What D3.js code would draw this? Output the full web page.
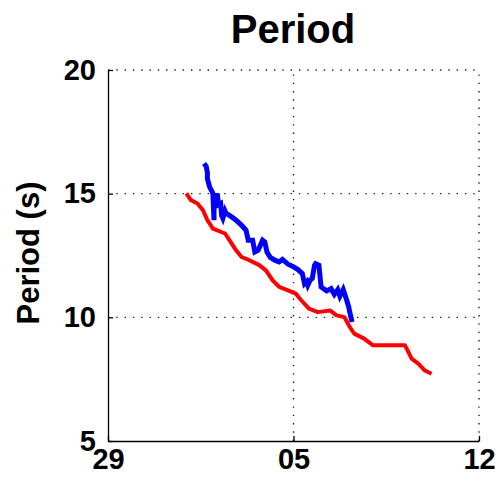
<!DOCTYPE html>
<html>
<head>
<meta charset="utf-8">
<script src="https://cdn.jsdelivr.net/npm/d3@7"></script>
<style>
  body { margin: 0; background: #fff; }
  svg { display: block; font-family: "Liberation Sans", Arial, sans-serif; }
</style>
</head>
<body>
<svg id="chart" width="500" height="485"></svg>
<script>
// Days after 29 Mar, and period in seconds
const redDays = [2.97, 3.16, 3.41, 3.60, 3.78, 3.97, 4.42, 4.60, 4.86, 5.05, 5.36, 5.74, 5.99, 6.24, 6.49, 6.80, 7.12, 7.31, 7.62, 7.94, 8.38, 8.63, 8.94, 9.13, 9.32, 9.70, 10.01, 11.21, 11.46, 11.71, 11.96, 12.22];
const redPeriod = [15.01, 14.74, 14.60, 14.33, 13.93, 13.59, 13.39, 13.12, 12.71, 12.44, 12.31, 12.11, 11.90, 11.50, 11.23, 11.09, 10.96, 10.69, 10.35, 10.21, 10.28, 10.08, 10.01, 9.61, 9.34, 9.14, 8.87, 8.87, 8.33, 8.13, 7.85, 7.72];

const blueDays = [3.66, 3.72, 3.76, 3.79, 3.85, 3.92, 3.97, 4.00, 4.04, 4.08, 4.16, 4.20, 4.25, 4.30, 4.35, 4.42, 4.48, 4.57, 4.67, 4.86, 5.05, 5.23, 5.33, 5.46, 5.55, 5.67, 5.84, 5.92, 6.01, 6.14, 6.30, 6.49, 6.62, 6.80, 6.99, 7.18, 7.35, 7.43, 7.50, 7.56, 7.64, 7.72, 7.80, 7.85, 7.97, 8.06, 8.25, 8.44, 8.57, 8.69, 8.78, 8.88, 9.01, 9.11, 9.16, 9.22];
const bluePeriod = [16.22, 16.10, 15.85, 15.61, 15.28, 15.10, 15.01, 13.93, 14.40, 14.74, 15.01, 14.55, 14.60, 14.10, 14.00, 14.30, 14.20, 14.15, 14.06, 13.93, 13.72, 13.52, 13.12, 13.12, 12.64, 12.71, 13.12, 13.05, 12.64, 12.42, 12.31, 12.24, 12.34, 12.15, 12.07, 11.93, 11.77, 11.36, 11.45, 11.30, 11.50, 11.57, 12.10, 12.17, 12.11, 11.23, 11.07, 11.16, 10.93, 11.12, 10.85, 11.12, 10.72, 10.42, 10.20, 9.81];

const xTickDays = [0, 7, 14];
const yTicks = [5, 10, 15, 20];
const startDate = new Date(2014, 2, 29);

const svg = d3.select("#chart");
const margin = { left: 108, top: 70, right: 21, bottom: 44 };
const width = 500 - margin.left - margin.right;
const height = 485 - margin.top - margin.bottom;

const toDate = d => d3.timeHour.offset(startDate, d * 24);

const x = d3.scaleTime()
  .domain([startDate, toDate(14)])
  .range([margin.left, margin.left + width]);

const y = d3.scaleLinear()
  .domain([5, 20])
  .range([margin.top + height, margin.top]);

// dotted grid
const grid = svg.append("g")
  .attr("stroke", "#222")
  .attr("stroke-width", 1.4)
  .attr("stroke-dasharray", "1.4,6.9");

grid.selectAll(".gx")
  .data(xTickDays.slice(1))
  .join("line")
  .attr("x1", d => x(toDate(d)))
  .attr("x2", d => x(toDate(d)))
  .attr("y1", y(5))
  .attr("y2", y(20));

grid.selectAll(".gy")
  .data(yTicks.slice(1))
  .join("line")
  .attr("x1", x.range()[0])
  .attr("x2", x.range()[1])
  .attr("y1", d => y(d))
  .attr("y2", d => y(d));

// axes
const xAxis = d3.axisBottom(x)
  .tickValues(xTickDays.map(toDate))
  .tickFormat(d3.timeFormat("%d"))
  .tickSizeInner(-5)
  .tickSizeOuter(0)
  .tickPadding(7);

const yAxis = d3.axisLeft(y)
  .tickValues(yTicks)
  .tickSizeInner(-5)
  .tickSizeOuter(0)
  .tickPadding(12);

const gx = svg.append("g")
  .attr("transform", `translate(0,${y(5)})`)
  .call(xAxis);

const gy = svg.append("g")
  .attr("transform", `translate(${x.range()[0]},0)`)
  .call(yAxis);

[gx, gy].forEach(g => {
  g.select(".domain").attr("stroke", "#000").attr("stroke-width", 1.3);
  g.selectAll(".tick line").attr("stroke", "#000").attr("stroke-width", 1.3);
  g.selectAll(".tick text")
    .attr("fill", "#000")
    .attr("font-family", "'Liberation Sans', Arial, sans-serif")
    .attr("font-size", 29)
    .attr("font-weight", "bold");
});

// lines
const line = d3.line()
  .x(d => x(toDate(d[0])))
  .y(d => y(d[1]));

svg.append("path")
  .datum(d3.zip(redDays, redPeriod))
  .attr("fill", "none")
  .attr("stroke", "#ff0000")
  .attr("stroke-width", 4)
  .attr("stroke-linejoin", "round")
  .attr("d", line);

svg.append("path")
  .datum(d3.zip(blueDays, bluePeriod))
  .attr("fill", "none")
  .attr("stroke", "#0000ff")
  .attr("stroke-width", 5)
  .attr("stroke-linejoin", "miter")
  .attr("d", line);

// title and label
svg.append("text")
  .attr("x", 293)
  .attr("y", 43)
  .attr("text-anchor", "middle")
  .attr("font-size", 40)
  .attr("font-weight", "bold")
  .text("Period");

svg.append("text")
  .attr("transform", "translate(39,253) rotate(-90)")
  .attr("text-anchor", "middle")
  .attr("font-size", 31)
  .attr("font-weight", "bold")
  .text("Period (s)");
</script>
</body>
</html>
